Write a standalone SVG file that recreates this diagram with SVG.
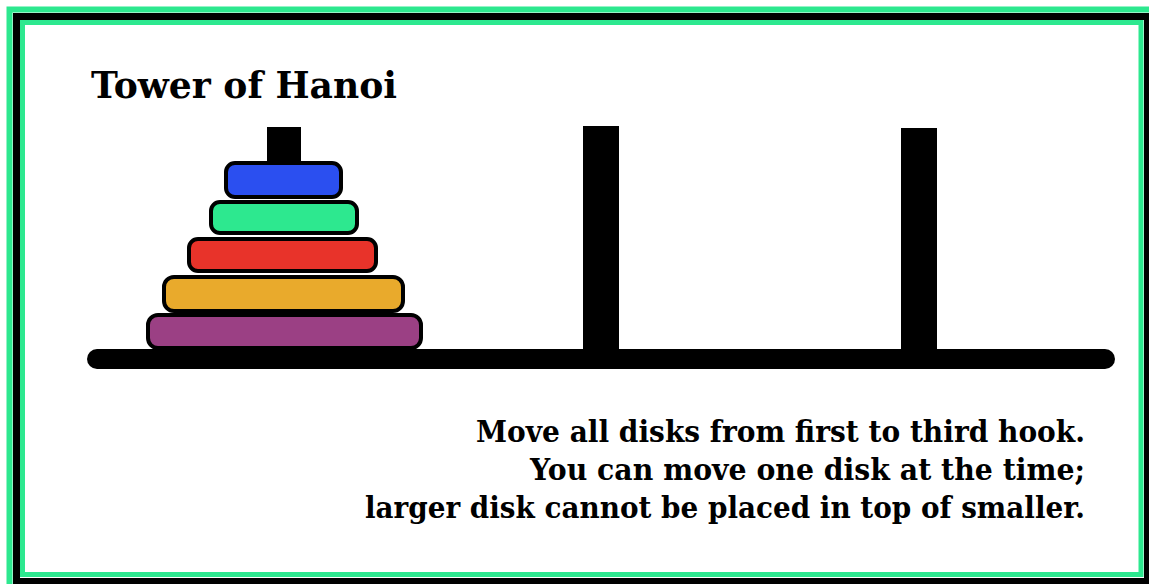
<svg xmlns="http://www.w3.org/2000/svg" width="1149" height="584" viewBox="0 0 1149 584">
<style>
.disk{stroke:#000;stroke-width:4}
.peg{fill:#000}
.t{font-family:"DejaVu Serif","Liberation Serif",serif;font-weight:bold;fill:#000}
</style>
<rect width="1149" height="584" fill="#fff"/>
<g id="frame" fill="none">
<rect x="9.5" y="9.5" width="1160" height="600" stroke="#2de88f" stroke-width="6"/>
<rect x="16.5" y="16.5" width="1131" height="565" stroke="#000" stroke-width="7"/>
<rect x="22.5" y="22.5" width="1118.5" height="552" stroke="#2de88f" stroke-width="5"/>
</g>
<g id="pegs">
<rect class="peg" x="267" y="127" width="34" height="40"/>
<rect class="peg" x="583" y="126" width="36" height="230"/>
<rect class="peg" x="901" y="128" width="36" height="228"/>
</g>
<g id="base">
<line x1="97" y1="359" x2="1105" y2="359" stroke="#000" stroke-width="20" stroke-linecap="round"/>
</g>
<g id="disks">
<rect id="disk5" class="disk" x="148" y="315" width="273" height="33" rx="10" fill="#9b4084"/>
<rect id="disk4" class="disk" x="164" y="277" width="239" height="34" rx="10" fill="#e9aa2c"/>
<rect id="disk3" class="disk" x="189" y="239" width="187" height="32" rx="9" fill="#e8332a"/>
<rect id="disk2" class="disk" x="211" y="202" width="146" height="31" rx="9" fill="#2de88f"/>
<rect id="disk1" class="disk" x="226" y="163" width="115" height="34" rx="9" fill="#2b4ff0"/>
</g>
<g id="title">
<text class="t" x="91" y="98" font-size="37" textLength="306" lengthAdjust="spacingAndGlyphs">Tower of Hanoi</text>
</g>
<g id="caption">
<text class="t" x="476" y="442" font-size="29" textLength="609" lengthAdjust="spacingAndGlyphs">Move all disks from first to third hook.</text>
<text class="t" x="530" y="480" font-size="29" textLength="555" lengthAdjust="spacingAndGlyphs">You can move one disk at the time;</text>
<text class="t" x="365" y="518" font-size="29" textLength="720" lengthAdjust="spacingAndGlyphs">larger disk cannot be placed in top of smaller.</text>
</g>
</svg>
